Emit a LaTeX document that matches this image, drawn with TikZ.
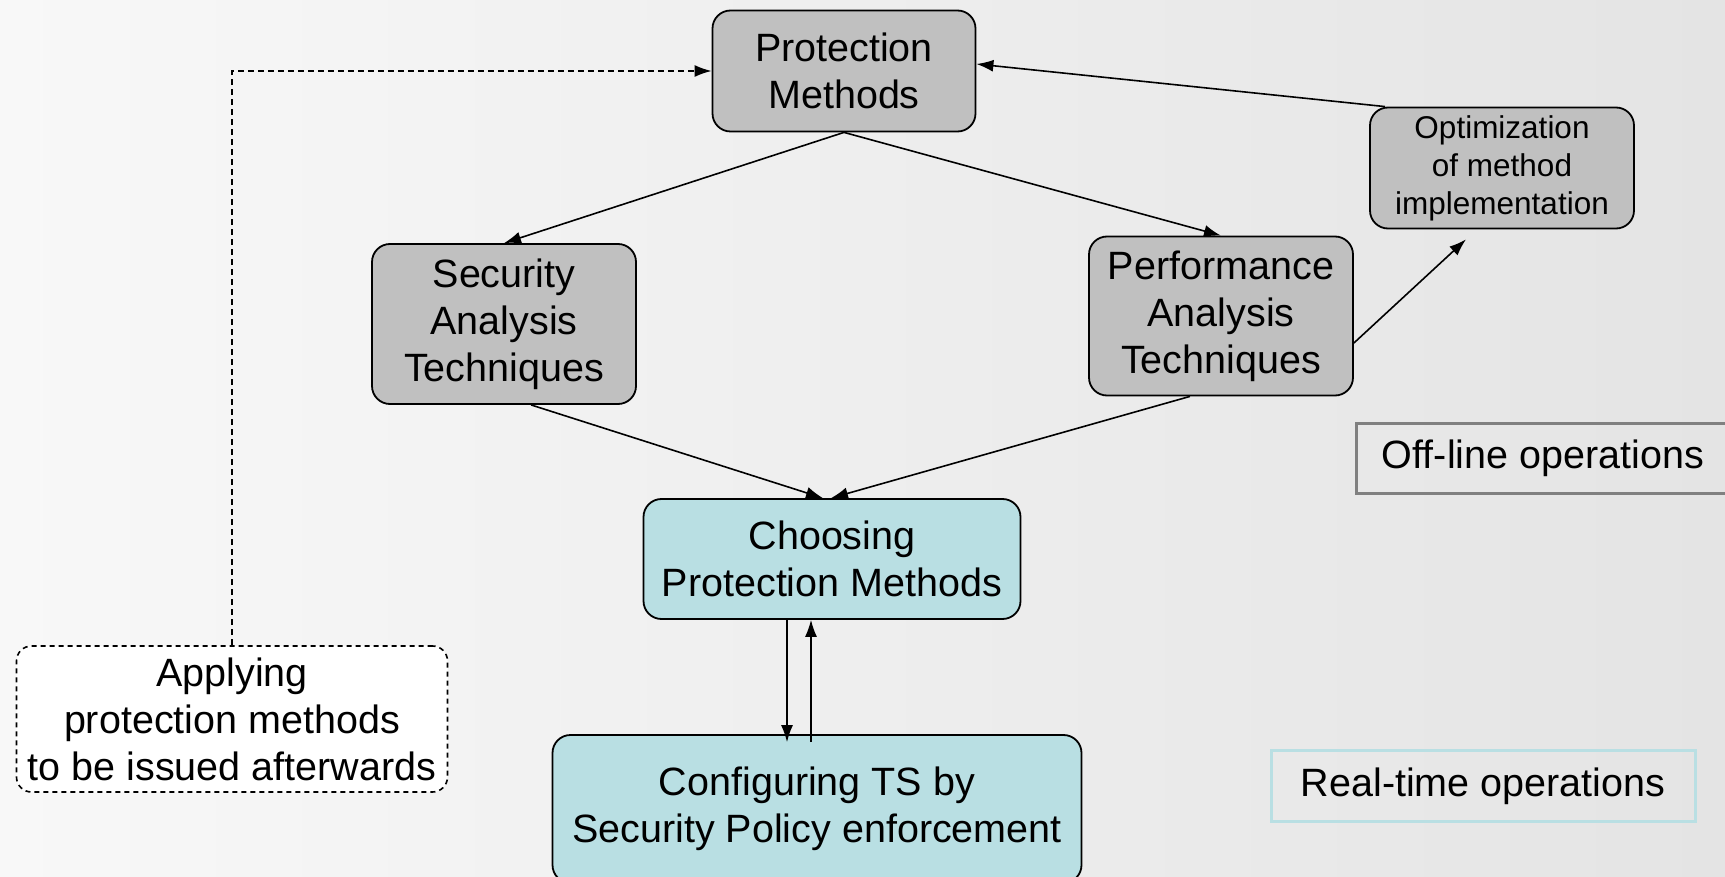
\documentclass[tikz,border=0pt]{standalone}
\usepackage{fontspec}
\setmainfont{Liberation Sans}
\usetikzlibrary{arrows.meta,calc}
\definecolor{boxgray}{HTML}{C0C0C0}
\definecolor{boxcyan}{HTML}{B9DFE3}
\definecolor{framegray}{HTML}{808080}
\definecolor{bgleft}{HTML}{F8F8F8}
\definecolor{bgright}{HTML}{E4E4E4}
\begin{document}
\begin{tikzpicture}[x=1pt,y=-1pt,
  every node/.style={inner sep=0pt, align=center},
  txt/.style={font=\fontsize{39.5}{47}\selectfont},
  smalltxt/.style={font=\fontsize{31.5}{38}\selectfont},
  graybox/.style={draw=black, line width=1.8pt, fill=boxgray, rounded corners=18pt},
  cyanbox/.style={txt, draw=black, line width=1.8pt, fill=boxcyan, rounded corners=18pt},
  conn/.style={line width=1.6pt, -{Latex[length=17pt,width=12pt]}},
  dconn/.style={line width=1.6pt, dash pattern=on 6pt off 4pt, -{Latex[length=17pt,width=12pt]}},
  legendbox/.style={txt, line width=3pt, fill=none},
]
\useasboundingbox (0,0) rectangle (1725,877);
\shade[left color=bgleft, right color=bgright] (0,0) rectangle (1725,877);

\node[graybox, txt, minimum width=263pt, minimum height=121pt] (pm) at (844,71) {Protection\\Methods};
\node[graybox, txt, minimum width=264pt, minimum height=160pt] (sat) at (504,324) {Security\\Analysis\\Techniques};
\node[graybox, txt, minimum width=264pt, minimum height=159pt] (pat) at (1221,316) {Performance\\Analysis\\Techniques};
\node[graybox, smalltxt, minimum width=264pt, minimum height=121pt] (opt) at (1502,168) {Optimization\\of method\\implementation};
\node[cyanbox, minimum width=377pt, minimum height=120pt] (choose) at (832,559) {Choosing\\Protection Methods};
\node[cyanbox, minimum width=529pt, minimum height=148pt] (conf) at (817,809) {Configuring TS by\\Security Policy enforcement};
\node[txt, draw=black, fill=white, line width=1.6pt, dash pattern=on 5pt off 4pt, rounded corners=15pt, minimum width=431pt, minimum height=146pt] (apply) at (232,719) {Applying\\protection methods\\to be issued afterwards};
\node[legendbox, draw=framegray, minimum width=373pt, minimum height=70pt] (offline) at (1543,458) {Off-line operations};
\node[legendbox, draw=boxcyan, minimum width=424pt, minimum height=71pt] (realtime) at (1483,786) {Real-time operations};

\draw[conn] (pm.south) -- (sat.north);
\draw[conn] (pm.south) -- (pat.north);
\draw[conn] ($(sat.south)+(27,0)$) -- ($(choose.north)+(-9,0)$);
\draw[conn] ($(pat.south)+(-31,0)$) -- ($(choose.north)+(-1,0)$);
\draw[conn] ($(pat.east)+(0,27)$) -- ($(opt.south)+(-36,10)$);
\draw[conn] ($(opt.north west)+(16,0)$) -- ($(pm.east)+(0,-7)$);
\draw[dconn] (apply.north) |- (pm.west);
\draw[conn, line width=1.3pt] ($(choose.south)+(-45,0)$) -- ($(choose.south |- conf.north)+(-45,8)$);
\draw[conn, line width=1.3pt] ($(choose.south |- conf.north)+(-21,8)$) -- ($(choose.south)+(-21,0)$);
\end{tikzpicture}
\end{document}
